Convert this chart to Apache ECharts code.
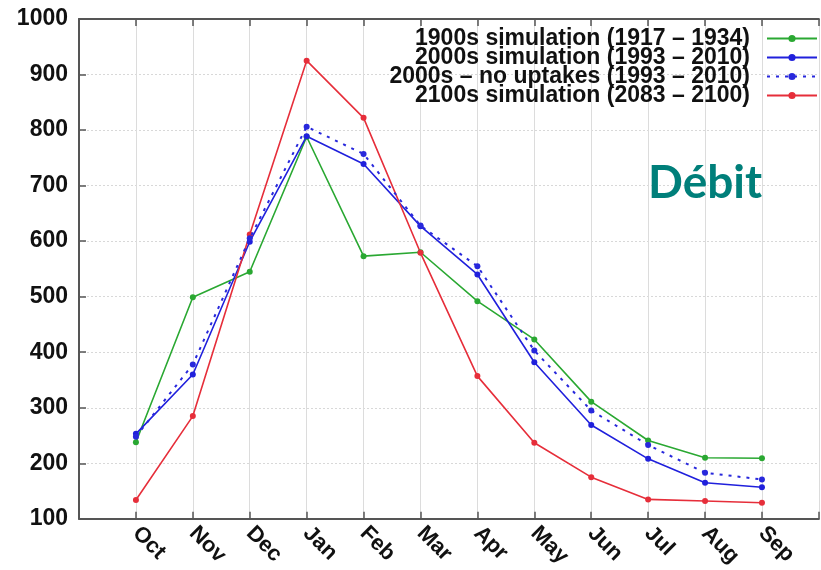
<!DOCTYPE html>
<html>
<head>
<meta charset="utf-8">
<script src="https://cdn.jsdelivr.net/npm/echarts@6/dist/echarts.min.js"></script>
<style>
html,body{margin:0;padding:0;background:#fff;}
#chart{width:821px;height:570px;}
</style>
</head>
<body>
<div id="chart"></div>
<script>
// categories (blank padding slots at both ends, as in the original x range)
var months = ['', 'Oct', 'Nov', 'Dec', 'Jan', 'Feb', 'Mar', 'Apr', 'May', 'Jun', 'Jul', 'Aug', 'Sep', ''];
var yTicks = [100, 200, 300, 400, 500, 600, 700, 800, 900, 1000];

var names = [
  '1900s simulation (1917 \u2013 1934)',
  '2000s simulation (1993 \u2013 2010)',
  '2000s \u2013 no uptakes (1993 \u2013 2010)',
  '2100s simulation (2083 \u2013 2100)'
];
var sim1900 = [238, 499, 545, 788, 573, 580, 492, 423, 311, 241, 210, 209];
var sim2000 = [253, 360, 599, 789, 739, 627, 540, 382, 269, 208, 165, 157];
var sim2000NoUptake = [248, 378, 605, 806, 757, 628, 555, 403, 295, 233, 183, 171];
var sim2100 = [134, 285, 612, 925, 822, 579, 357, 237, 175, 135, 132, 129];

function pad(arr){ return [null].concat(arr).concat([null]); }

var colors = ['#2aa832', '#2020dc', '#2828dc', '#e62e3a'];

var chart = echarts.init(document.getElementById('chart'), null, {renderer:'canvas'});

function mkSeries(name, data, color, dashed){
  return {
    name: name, type: 'line', data: pad(data), xAxisIndex: 0,
    symbol: 'circle', symbolSize: 6, showSymbol: true,
    connectNulls: false,
    lineStyle: {color: color, width: dashed ? 2 : 1.6, type: dashed ? [3, 6] : 'solid'},
    itemStyle: {color: color},
    emphasis: {disabled: true},
    animation: false,
    z: dashed ? 3 : 2
  };
}

var axisCol = '#555';

chart.setOption({
  animation: false,
  backgroundColor: '#fff',
  title: {
    text: 'D\u00e9bit', left: 643, top: 155,
    textStyle: {fontFamily: 'Lato', fontWeight: 'bold', fontSize: 46, color: '#007f7a'}
  },
  legend: {
    orient: 'vertical', align: 'right', right: 3, top: 27, padding: 0,
    itemGap: -4, itemWidth: 50, itemHeight: 9,
    data: names,
    textStyle: {fontFamily: 'Liberation Sans', fontWeight: 'bold', fontSize: 23, lineHeight: 19, color: '#111', padding: [0, 12, 0, 0]},
    selectedMode: false
  },
  grid: {left: 79, top: 19, width: 750, height: 501, containLabel: false},
  xAxis: [{
    type: 'category', data: months, boundaryGap: false, position: 'bottom',
    axisLine: {lineStyle: {color: axisCol, width: 2}},
    axisTick: {inside: true, length: 7, lineStyle: {color: axisCol, width: 1.5}, alignWithLabel: true},
    axisLabel: {rotate: -45, interval: 0, margin: 11, fontFamily: 'Liberation Sans', fontWeight: 'bold', fontSize: 22, color: '#111'},
    splitLine: {show: true, lineStyle: {color: '#dcdcdc', width: 1}}
  }, {
    type: 'category', data: months, boundaryGap: false, position: 'top',
    axisLine: {lineStyle: {color: axisCol, width: 2}},
    axisTick: {inside: true, length: 7, lineStyle: {color: axisCol, width: 1.5}},
    axisLabel: {show: false},
    splitLine: {show: false}
  }],
  yAxis: {
    type: 'value', min: yTicks[0], max: yTicks[yTicks.length - 1], interval: 100,
    axisLine: {show: true, lineStyle: {color: axisCol, width: 2}},
    axisTick: {show: true, inside: true, length: 7, lineStyle: {color: axisCol, width: 1.5}},
    axisLabel: {margin: 11, fontFamily: 'Liberation Sans', fontWeight: 'bold', fontSize: 23, color: '#111',
      formatter: function(v){ return String(v); }},
    splitLine: {show: true, lineStyle: {color: '#d8d8d8', width: 1, type: [2, 2]}}
  },
  series: [
    mkSeries(names[0], sim1900, colors[0], false),
    mkSeries(names[1], sim2000, colors[1], false),
    mkSeries(names[2], sim2000NoUptake, colors[2], true),
    mkSeries(names[3], sim2100, colors[3], false)
  ]
});
</script>
</body>
</html>
